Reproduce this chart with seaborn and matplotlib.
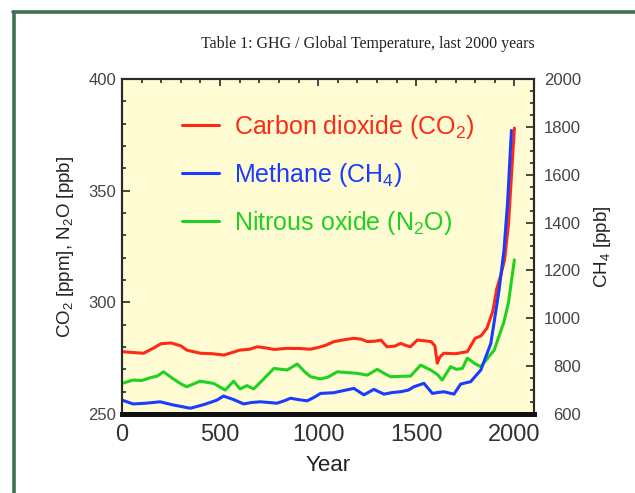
import matplotlib
matplotlib.use("Agg")
import matplotlib.pyplot as plt
import seaborn as sns
import pandas as pd
from matplotlib.lines import Line2D
from matplotlib.ticker import MultipleLocator

# data
co2_year = [0, 60, 110, 160, 200, 250, 300, 330, 400, 460, 520, 560, 600, 650, 690, 740, 775, 840,
            910, 960, 1000, 1040, 1080, 1130, 1180, 1220, 1250, 1290, 1320, 1350, 1390, 1420, 1450,
            1470, 1505, 1540, 1575, 1595, 1607, 1620, 1640, 1700, 1760, 1800, 1830, 1860, 1890,
            1910, 1930, 1950, 1970, 2000]
co2_ppm = [277.9, 277.5, 277.2, 279.5, 281.5, 281.8, 280.5, 278.6, 277.2, 277.0, 276.4, 277.5,
           278.6, 279.0, 280.1, 279.5, 278.9, 279.4, 279.3, 279.0, 279.8, 280.8, 282.4, 283.2,
           283.9, 283.5, 282.4, 282.6, 283.1, 280.1, 280.4, 281.6, 280.6, 280.1, 283.1, 282.8,
           282.4, 280.5, 272.7, 275.5, 277.2, 277.0, 277.9, 283.9, 285.0, 288.4, 296.0,
           306.0, 312.0, 319.0, 335.0, 378.0]

ch4_year = [0, 57, 120, 194, 260, 348, 420, 484, 517, 570, 620, 660, 705, 750, 790, 830, 859, 900,
            944, 980, 1012, 1080, 1130, 1182, 1233, 1284, 1335, 1380, 1420, 1460, 1488, 1539,
            1582, 1610, 1641, 1692, 1726, 1777, 1829, 1880, 1922, 1947, 1965, 1985]
ch4_ppb = [658, 642, 645, 651, 638, 624, 640, 658, 675, 660, 642, 648, 651, 648, 645, 656, 666, 660,
           655, 670, 686, 689, 698, 707, 680, 703, 683, 690, 693, 700, 714, 728,
           686, 690, 693, 683, 725, 735, 784, 895, 1118, 1285, 1480, 1785]

n2o_year = [0, 57, 100, 142, 180, 211, 262, 300, 330, 398, 467, 526, 569, 602, 637, 671, 722, 774,
            842, 893, 930, 961, 1012, 1050, 1097, 1199, 1250, 1301, 1340, 1369, 1471, 1522, 1573,
            1610, 1632, 1675, 1705, 1735, 1760, 1800, 1829, 1897, 1947, 1970, 2000]
n2o_ppb = [263.7, 265.2, 265.0, 266.2, 267.0, 268.9, 265.7, 263.5, 262.2, 264.7, 263.7, 260.7,
           264.7, 261.2, 262.7, 261.2, 265.7, 270.4, 269.7, 272.4, 269.0, 266.7, 265.7, 266.5,
           268.9, 268.2, 267.4, 270.0, 268.0, 266.7, 267.0, 271.9, 269.7, 267.5, 265.2, 271.2,
           270.0, 270.4, 275.0, 272.5, 271.2, 278.6, 291.3, 300.0, 319.0]

labels = ['Carbon dioxide (CO$_2$)', 'Methane (CH$_4$)', 'Nitrous oxide (N$_2$O)']
colors = ['#ff2a14', '#1a3cff', '#1fd21f']

df_co2 = pd.DataFrame({'Year': co2_year, 'value': co2_ppm})
df_ch4 = pd.DataFrame({'Year': ch4_year, 'value': ch4_ppb})
df_n2o = pd.DataFrame({'Year': n2o_year, 'value': n2o_ppb})

sns.set_style('white')
plt.rcParams['font.family'] = ['Liberation Sans', 'DejaVu Sans']
plt.rcParams['mathtext.fontset'] = 'custom'
plt.rcParams['mathtext.rm'] = 'Liberation Sans'
plt.rcParams['mathtext.it'] = 'Liberation Sans:italic'

fig = plt.figure(figsize=(6.35, 4.93), dpi=100)
ax = fig.add_axes([122/635, 1 - 414/493, 412/635, 335/493])
ax.set_facecolor('#fffcd4')
ax2 = ax.twinx()

sns.lineplot(data=df_co2, x='Year', y='value', ax=ax, color=colors[0], lw=2.2)
sns.lineplot(data=df_n2o, x='Year', y='value', ax=ax, color=colors[2], lw=2.2)
sns.lineplot(data=df_ch4, x='Year', y='value', ax=ax2, color=colors[1], lw=2.2)

ax.set_xlim(0, 2100)
ax.set_ylim(250, 400)
ax2.set_ylim(600, 2000)

ax.xaxis.set_major_locator(MultipleLocator(500))
ax.xaxis.set_minor_locator(MultipleLocator(100))
ax.yaxis.set_major_locator(MultipleLocator(50))
ax.yaxis.set_minor_locator(MultipleLocator(10))
ax2.yaxis.set_major_locator(MultipleLocator(200))
ax2.yaxis.set_minor_locator(MultipleLocator(50))

ax.tick_params(axis='x', which='both', direction='in', top=True, labelsize=17,
               labelcolor='#333333', pad=7)
ax.tick_params(axis='x', which='major', length=5, width=1.2)
ax.tick_params(axis='x', which='minor', length=3, width=1.2)
ax.tick_params(axis='y', which='both', direction='in', right=False, labelsize=12,
               labelcolor='#444444', pad=4)
ax.tick_params(axis='y', which='major', length=6, width=1.2)
ax.tick_params(axis='y', which='minor', length=3, width=1.2)
ax2.tick_params(axis='y', which='both', direction='in', labelsize=12,
                labelcolor='#444444', pad=34)
ax2.tick_params(axis='y', which='major', length=6, width=1.2)
ax2.tick_params(axis='y', which='minor', length=3, width=1.2)
for t in ax2.get_yticklabels():
    t.set_horizontalalignment('right')

for a in (ax, ax2):
    for s in a.spines.values():
        s.set_color('#2a2a2a')
        s.set_linewidth(1.5)
    a.spines['bottom'].set_linewidth(3.5)
    a.spines['bottom'].set_color('#111111')

ax.set_xlabel('Year', fontsize=16, color='#222222', labelpad=7)
ax.set_ylabel('CO$_2$ [ppm], N$_2$O [ppb]', fontsize=13.5, color='#222222', labelpad=9)
ax2.set_ylabel('CH$_4$ [ppb]', fontsize=13.5, color='#222222', labelpad=8)

handles = [Line2D([], [], color=c, lw=2.2) for c in colors]
ax2.legend(handles, labels, loc='upper left', bbox_to_anchor=(0.09, 0.965), frameon=False,
           fontsize=18, labelcolor=colors, handlelength=1.5, handletextpad=0.6,
           labelspacing=0.8)

fig.text(0.58, 1 - 44/493, 'Table 1: GHG / Global Temperature, last 2000 years',
         family='Liberation Serif', fontsize=11.5, ha='center', va='center', color='#222222')

# green frame on top and left of the picture
border = '#3f7352'
fig.add_artist(Line2D([14/635, 14/635], [0, 1 - 12/493], color=border, lw=2.6,
                      transform=fig.transFigure))
fig.add_artist(Line2D([13/635, 1], [1 - 12/493, 1 - 12/493], color=border, lw=2.6,
                      transform=fig.transFigure))

fig.savefig('out.png', dpi=100)
